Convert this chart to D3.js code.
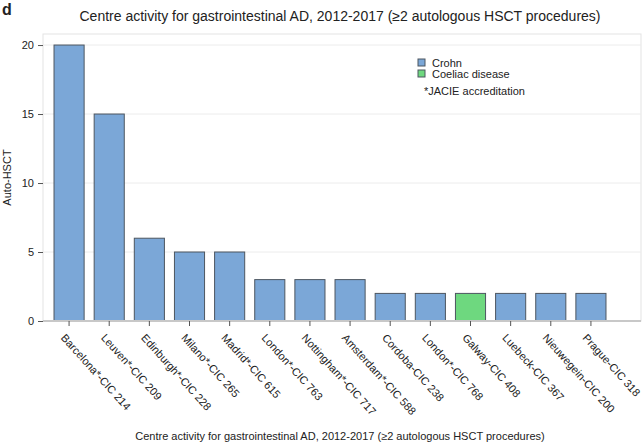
<!DOCTYPE html>
<html>
<head>
<meta charset="utf-8">
<script src="https://cdn.jsdelivr.net/npm/d3@7"></script>
<style>
  body { margin: 0; background: #fff; }
  text { font-family: "Liberation Sans", Arial, sans-serif; fill: #222; }
</style>
</head>
<body>
<div id="chart"></div>
<script>
const centres = ['Barcelona*-CIC 214', 'Leuven*-CIC 209', 'Edinburgh*-CIC 228', 'Milano*-CIC 265',
  'Madrid*-CIC 615', 'London*-CIC 763', 'Nottingham*-CIC 717', 'Amsterdam*-CIC 588',
  'Cordoba-CIC 238', 'London*-CIC 768', 'Galway-CIC 408', 'Luebeck-CIC 367',
  'Nieuwegein-CIC 200', 'Prague-CIC 318'];
const autoHSCT = [20, 15, 6, 5, 5, 3, 3, 3, 2, 2, 2, 2, 2, 2];
const disease = ['Crohn', 'Crohn', 'Crohn', 'Crohn', 'Crohn', 'Crohn', 'Crohn', 'Crohn',
  'Crohn', 'Crohn', 'Coeliac disease', 'Crohn', 'Crohn', 'Crohn'];
const legendItems = ['Crohn', 'Coeliac disease'];
const yTicks = [0, 5, 10, 15, 20];

const width = 642, height = 444;
const plot = { left: 43, right: 641, top: 34, bottom: 321 };

const color = d3.scaleOrdinal().domain(legendItems).range(['#7ba7d7', '#6ed87f']);

const svg = d3.select('#chart').append('svg')
  .attr('width', width)
  .attr('height', height);

const x = d3.scaleBand()
  .domain(centres)
  .range([49, 611])
  .paddingInner(0.25)
  .paddingOuter(0.125);

const y = d3.scaleLinear()
  .domain([0, 20.8])
  .range([plot.bottom, plot.top]);

// plot frame
svg.append('rect')
  .attr('x', plot.left)
  .attr('y', plot.top)
  .attr('width', plot.right - plot.left)
  .attr('height', plot.bottom - plot.top)
  .attr('fill', 'none')
  .attr('stroke', '#e3e3e3');

// gridlines
svg.append('g')
  .selectAll('line')
  .data(yTicks)
  .enter()
  .append('line')
  .attr('x1', plot.left)
  .attr('x2', plot.right)
  .attr('y1', d => y(d))
  .attr('y2', d => y(d))
  .attr('stroke', '#ececec');

// bars
svg.append('g')
  .selectAll('rect')
  .data(centres)
  .enter()
  .append('rect')
  .attr('x', d => x(d))
  .attr('y', (d, i) => y(autoHSCT[i]))
  .attr('width', x.bandwidth())
  .attr('height', (d, i) => y(0) - y(autoHSCT[i]))
  .attr('fill', (d, i) => color(disease[i]))
  .attr('stroke', '#4d5660')
  .attr('stroke-width', 1);

// y axis
const yAxis = svg.append('g')
  .attr('transform', `translate(${plot.left},0)`)
  .call(d3.axisLeft(y).tickValues(yTicks).tickSize(5).tickPadding(4));
yAxis.select('.domain').remove();
yAxis.selectAll('line').attr('stroke', '#555');
yAxis.selectAll('text').style('font-size', '11px').attr('fill', '#222');

// x axis
const xAxis = svg.append('g')
  .attr('transform', `translate(0,${plot.bottom})`)
  .call(d3.axisBottom(x).tickSize(5));
xAxis.select('.domain')
  .attr('d', `M${plot.left},0H${plot.right}`)
  .attr('stroke', '#c8c8c8')
  .attr('stroke-width', 2);
xAxis.selectAll('line').attr('stroke', '#555');
xAxis.selectAll('text')
  .style('font-size', '11px')
  .attr('fill', '#222')
  .attr('text-anchor', 'start')
  .attr('x', 0)
  .attr('y', 0)
  .attr('dy', '0.71em')
  .attr('transform', 'translate(-3,12) rotate(48)');

// titles
svg.append('text')
  .attr('x', 2)
  .attr('y', 15)
  .style('font-size', '16px')
  .style('font-weight', 'bold')
  .text('d');

svg.append('text')
  .attr('x', 340)
  .attr('y', 21)
  .attr('text-anchor', 'middle')
  .style('font-size', '14px')
  .text('Centre activity for gastrointestinal AD, 2012-2017 (\u22652 autologous HSCT procedures)');

svg.append('text')
  .attr('x', 340)
  .attr('y', 440)
  .attr('text-anchor', 'middle')
  .style('font-size', '11px')
  .text('Centre activity for gastrointestinal AD, 2012-2017 (\u22652 autologous HSCT procedures)');

svg.append('text')
  .attr('transform', `translate(11,${(plot.top + plot.bottom) / 2}) rotate(-90)`)
  .attr('text-anchor', 'middle')
  .style('font-size', '11px')
  .text('Auto-HSCT');

// legend
const legend = svg.append('g').attr('transform', 'translate(418,59)');
legend.selectAll('rect')
  .data(legendItems)
  .enter()
  .append('rect')
  .attr('x', 0)
  .attr('y', (d, i) => i * 11)
  .attr('width', 7)
  .attr('height', 7)
  .attr('fill', d => color(d))
  .attr('stroke', '#4d5660');
legend.selectAll('text.item')
  .data(legendItems)
  .enter()
  .append('text')
  .attr('class', 'item')
  .attr('x', 14)
  .attr('y', (d, i) => i * 11 + 8)
  .style('font-size', '11px')
  .text(d => d);
legend.append('text')
  .attr('x', 6)
  .attr('y', 36)
  .style('font-size', '11px')
  .text('*JACIE accreditation');
</script>
</body>
</html>
